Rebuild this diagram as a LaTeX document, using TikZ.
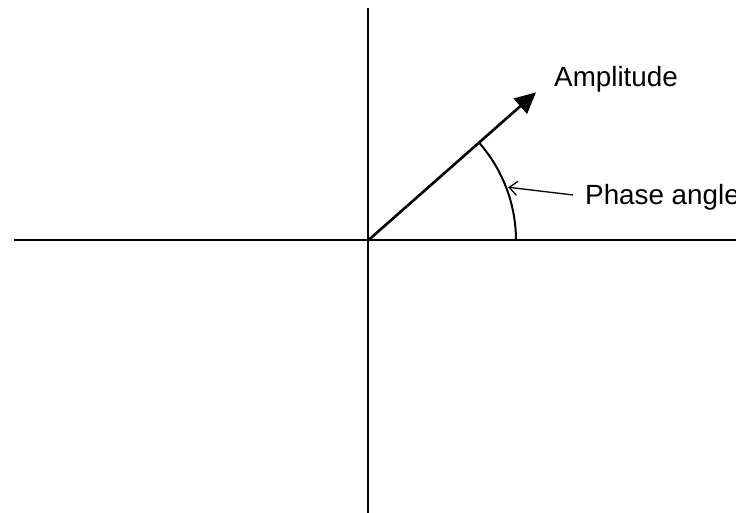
\documentclass[tikz,border=0pt]{standalone}
\usepackage{fontspec}
\setmainfont{Liberation Sans}
\usetikzlibrary{arrows.meta, calc}
\tikzset{
  axis/.style={line width=2pt},
  vec/.style={line width=2.6pt, -{Triangle[length=21pt, width=20pt]}},
  pointer/.style={line width=1.3pt, -{Straight Barb[length=8pt, width=14pt, line width=1.3pt]}},
  lbl/.style={inner sep=0pt, anchor=base west, font=\fontsize{27.8}{32}\selectfont}
}

\begin{document}
\begin{tikzpicture}[x=1pt, y=1pt]
\useasboundingbox (0,0) rectangle (736,513);
% axes
\coordinate (O) at (368,272.5);
\coordinate (top) at (368,505);
\coordinate (bot) at (368,-5);
\coordinate (left) at (14,272.5);
\coordinate (right) at (741,272.5);
\draw[axis] (top) -- (bot);
\draw[axis] (left) -- (right);
% amplitude vector and angle
\coordinate (tip) at ($(O)+(41.4:224)$);
\draw[vec] (O) -- (tip);
\draw[axis] ($(O)+(0:148)$) arc[start angle=0, end angle=41.4, radius=148];
% labels
\node[lbl] (amp) at (554,426) {Amplitude};
\node[lbl] (phase) at (585,308) {Phase angle};
\coordinate (hit) at ($(O)+(20.8:150)$);
\draw[pointer] ([xshift=-12pt, yshift=10pt]phase.base west) -- (hit);
\end{tikzpicture}
\end{document}
